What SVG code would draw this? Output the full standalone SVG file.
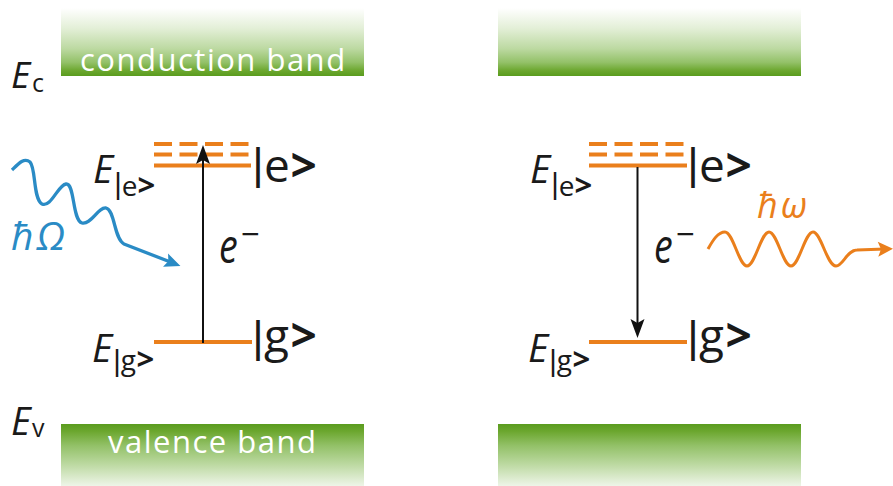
<svg xmlns="http://www.w3.org/2000/svg" width="893" height="486" viewBox="0 0 893 486">
<defs>
<linearGradient id="gTop" x1="0" y1="0" x2="0" y2="1">
<stop offset="0" stop-color="#ffffff"/>
<stop offset="0.3" stop-color="#e3efd7"/>
<stop offset="0.6" stop-color="#bcd9a1"/>
<stop offset="0.8" stop-color="#93c168"/>
<stop offset="0.92" stop-color="#6ca72f"/>
<stop offset="1" stop-color="#5a9c1e"/>
</linearGradient>
<linearGradient id="gBot" x1="0" y1="0" x2="0" y2="1">
<stop offset="0" stop-color="#5a9c1e"/>
<stop offset="0.12" stop-color="#6ca72f"/>
<stop offset="0.35" stop-color="#93c168"/>
<stop offset="0.65" stop-color="#bcd9a1"/>
<stop offset="1" stop-color="#eef5e8"/>
</linearGradient>
<marker id="aBlack" markerUnits="userSpaceOnUse" markerWidth="24" markerHeight="18" viewBox="-14 -9 24 18" refX="0" refY="0" orient="auto">
<path d="M6,0 L-13,-7 L-9,0 L-13,7 Z" fill="#111"/>
</marker>
<marker id="aBlue" markerUnits="userSpaceOnUse" markerWidth="22" markerHeight="18" viewBox="-10 -9 22 18" refX="0" refY="0" orient="auto">
<path d="M8,0 L-8,-7 L-5,0 L-8,7 Z" fill="#2a8bc5"/>
</marker>
<marker id="aOrange" markerUnits="userSpaceOnUse" markerWidth="22" markerHeight="18" viewBox="-10 -9 22 18" refX="0" refY="0" orient="auto">
<path d="M8,0 L-7,-7.5 L-4,0 L-7,7.5 Z" fill="#ea7f1c"/>
</marker>
</defs>
<style>
text{font-family:"Open Sans","DejaVu Sans",sans-serif;fill:#1a1a1a}
.it{font-style:italic}
.band{font-size:31px;fill:#ffffff;letter-spacing:1.5px}
.lvl{stroke:#ea7f1c;stroke-width:4;fill:none}
.dash{stroke:#ea7f1c;stroke-width:4;fill:none;stroke-dasharray:18 7.5}
.arr{stroke:#111;stroke-width:2;fill:none}
.big{font-size:46px}
.bgt{font-size:46px;font-weight:700}
.bar{font-family:"Liberation Sans",Arial,sans-serif;font-size:44px}
.sbar{font-family:"Liberation Sans",Arial,sans-serif;font-size:29px}
.sub{font-size:28px}
.sgt{font-size:31px;font-weight:700}
.E{font-size:39px;font-style:italic}
</style>

<g id="conduction-band-left">
<rect x="61" y="8" width="303" height="68" fill="url(#gTop)"/>
<text class="band" x="80" y="71">conduction band</text>
</g>
<g id="valence-band-left">
<rect x="61" y="424" width="303" height="62" fill="url(#gBot)"/>
<text class="band" x="108" y="453">valence band</text>
</g>
<g id="conduction-band-right">
<rect x="498" y="8" width="303" height="68" fill="url(#gTop)"/>
</g>
<g id="valence-band-right">
<rect x="498" y="424" width="303" height="62" fill="url(#gBot)"/>
</g>

<g id="Ec-label">
<text x="11" y="88"><tspan class="it" font-size="37">E</tspan><tspan x="32" y="92" font-size="25">c</tspan></text>
</g>
<g id="Ev-label">
<text x="11" y="435"><tspan class="it" font-size="38">E</tspan><tspan x="32" y="437" font-size="25">v</tspan></text>
</g>

<g id="excited-level-left">
<line class="dash" x1="154" y1="144" x2="251" y2="144"/>
<line class="dash" x1="154" y1="154.5" x2="251" y2="154.5"/>
<line class="lvl" x1="154" y1="165.5" x2="251" y2="165.5"/>
<text x="93" y="183"><tspan class="E">E</tspan><tspan class="sbar" x="114.2" y="194">|</tspan><tspan class="sub" x="121.7" y="196">e</tspan><tspan class="sgt" x="137.5">&gt;</tspan></text>
<text><tspan class="bar" x="252.3" y="178.7">|</tspan><tspan class="big" x="264" y="182">e</tspan><tspan class="bgt" x="290.5">&gt;</tspan></text>
</g>
<g id="ground-level-left">
<line class="lvl" x1="154" y1="342" x2="252" y2="342"/>
<text x="92" y="362"><tspan class="E">E</tspan><tspan class="sbar" x="113.2" y="371">|</tspan><tspan class="sub" x="120.8" y="370">g</tspan><tspan class="sgt" x="136.5">&gt;</tspan></text>
<text><tspan class="bar" x="252.3" y="352">|</tspan><tspan class="big" x="264" y="352">g</tspan><tspan class="bgt" x="290.5">&gt;</tspan></text>
</g>

<g id="excited-level-right">
<line class="dash" x1="589" y1="144" x2="687" y2="144"/>
<line class="dash" x1="589" y1="154.5" x2="687" y2="154.5"/>
<line class="lvl" x1="589" y1="165.5" x2="687" y2="165.5"/>
<text x="530" y="183"><tspan class="E">E</tspan><tspan class="sbar" x="551.2" y="194">|</tspan><tspan class="sub" x="558.7" y="196">e</tspan><tspan class="sgt" x="574.5">&gt;</tspan></text>
<text><tspan class="bar" x="687.3" y="178.7">|</tspan><tspan class="big" x="699" y="182">e</tspan><tspan class="bgt" x="725.5">&gt;</tspan></text>
</g>
<g id="ground-level-right">
<line class="lvl" x1="589" y1="342" x2="687" y2="342"/>
<text x="528" y="362"><tspan class="E">E</tspan><tspan class="sbar" x="549.2" y="371">|</tspan><tspan class="sub" x="556.8" y="370">g</tspan><tspan class="sgt" x="572.5">&gt;</tspan></text>
<text><tspan class="bar" x="687.3" y="352">|</tspan><tspan class="big" x="699" y="352">g</tspan><tspan class="bgt" x="725.5">&gt;</tspan></text>
</g>

<g id="photon-absorbed">
<text class="it" x="11" y="250" font-size="39" style="fill:#2a8bc5;letter-spacing:3px">ħΩ</text>
</g>
<g id="photon-emitted">
<text class="it" x="757" y="218" font-size="36" style="fill:#ea7f1c;letter-spacing:3px">ħω</text>
</g>

<g id="electron-left">
<text class="it" transform="translate(219,263) scale(0.8,1)" font-size="47">e</text>
<text x="241" y="246" font-size="33">−</text>
</g>
<g id="electron-right">
<text class="it" transform="translate(654,263) scale(0.8,1)" font-size="47">e</text>
<text x="676" y="246" font-size="33">−</text>
</g>

<g id="connectors">
<line class="arr" x1="203" y1="343" x2="203" y2="151" marker-end="url(#aBlack)"/>
<line class="arr" x1="637.5" y1="167" x2="637.5" y2="332" marker-end="url(#aBlack)"/>
<path d="M12,170 C18,164 24,157 30,162 C36,168 33,199 42,204 C51,208 58,185 66,184 C75,183 72,220 82,223 C91,225 98,207 106,208 C115,210 114,239 124,244 L173,263" fill="none" stroke="#2a8bc5" stroke-width="3.3" marker-end="url(#aBlue)"/>
<path d="M708,249 C713,240 718,232 725,232 C733,232 739,266 747,266 C755,266 761,232 769,232 C777,232 783,266 791,266 C799,266 805,232 813,232 C821,232 827,266 836,266 C843,266 847,250 857,250 L885,249" fill="none" stroke="#ea7f1c" stroke-width="3" marker-end="url(#aOrange)"/>
</g>
</svg>
